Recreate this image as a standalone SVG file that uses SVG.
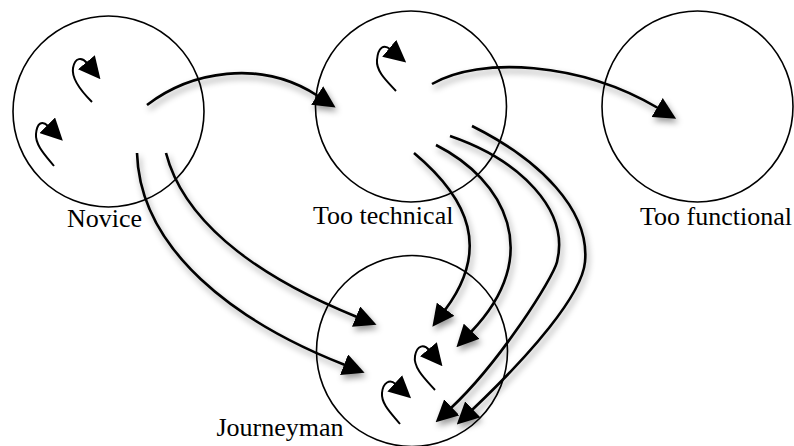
<svg xmlns="http://www.w3.org/2000/svg" width="794" height="446" viewBox="0 0 794 446">
  <style>
    .state { fill: none; stroke: #000; stroke-width: 1.6; }
    .label { font-family: "Liberation Serif", "Times New Roman", serif; font-size: 26px; fill: #000; }
    .flow { fill: none; stroke: #000; stroke-width: 2.6; marker-end: url(#head); }
    .self { fill: none; stroke: #000; stroke-width: 2; marker-end: url(#head); }
  </style>
  <defs>
    <marker id="head" markerUnits="userSpaceOnUse" markerWidth="22" markerHeight="22" viewBox="0 0 22 22" refX="1" refY="11" orient="auto">
      <path d="M0,0 L22,11 L0,22 z" fill="#000"/>
    </marker>
    <filter id="shadow" x="-20%" y="-20%" width="140%" height="140%">
      <feDropShadow dx="2" dy="4" stdDeviation="3" flood-color="#000" flood-opacity="0.4"/>
    </filter>
  </defs>

  <rect width="794" height="446" fill="#fff"/>

  <g id="novice">
    <circle class="state" cx="108.5" cy="111.5" r="95.5"/>
    <text class="label" x="67" y="227">Novice</text>
  </g>
  <g id="too-technical">
    <circle class="state" cx="411" cy="106.5" r="95.5"/>
    <text class="label" x="313" y="224">Too technical</text>
  </g>
  <g id="too-functional">
    <circle class="state" cx="697.5" cy="106.5" r="95.5"/>
    <text class="label" x="640" y="225">Too functional</text>
  </g>
  <g id="journeyman">
    <circle class="state" cx="412" cy="351" r="95.5"/>
    <text class="label" x="216.5" y="436">Journeyman</text>
  </g>

  <g id="connectors">
    <!-- transitions between states, with drop shadow -->
    <g filter="url(#shadow)">
      <path class="flow" d="M147,105 C190,72 260,58 318,96"/>
      <path class="flow" d="M432,84 C480,56 580,62 658,108"/>
      <path class="flow" d="M137,153 C140,250 235,322 345,365"/>
      <path class="flow" d="M166,153 C182,215 245,272 357,317"/>
      <path class="flow" d="M414,153 C470,200 490,250 445,310"/>
      <path class="flow" d="M436,145 C505,180 545,255 471,332"/>
      <path class="flow" d="M450,136 C520,160 570,210 557,262 C553,278 500,362 451,408"/>
      <path class="flow" d="M472,126 C540,160 590,210 585,262 C582,295 530,355 472,410"/>
    </g>
    <!-- self loops inside states -->
    <path class="self" d="M92,102 C84,94 71,80 73,68 C75,57 82,57 87,63"/>
    <path class="self" d="M54,166 C46,156 35,145 36,134 C37,123 42,120 48,126"/>
    <path class="self" d="M396,91 C388,82 376,72 377,60 C378,47 384,44 390,49"/>
    <path class="self" d="M435,390 C426,380 413,368 415,356 C417,345 424,344 429,350"/>
    <path class="self" d="M400,424 C392,414 381,404 382,393 C383,382 390,379 395.5,384"/>
  </g>
</svg>
